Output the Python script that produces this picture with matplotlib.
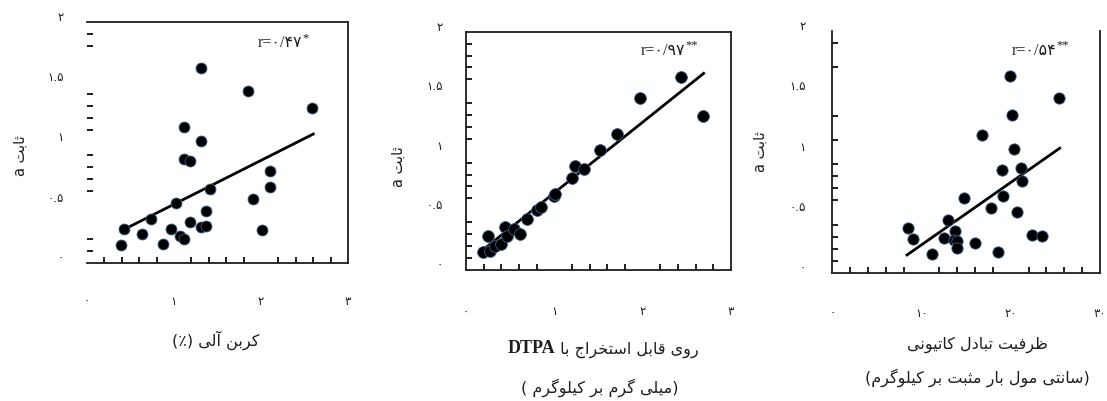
import matplotlib
matplotlib.use("Agg")
import matplotlib.pyplot as plt
import numpy as np
from matplotlib.transforms import ScaledTranslation

# ---- data ----
# panel 1: organic carbon (%) vs constant a
carbon_x = [0.39, 0.43, 0.63, 0.73, 0.87, 0.97, 1.02, 1.07, 1.11, 1.11, 1.12, 1.18, 1.18,
            1.31, 1.31, 1.31, 1.37, 1.37, 1.41, 1.85, 1.91, 2.01, 2.10, 2.10, 2.59]
carbon_y = [0.15, 0.28, 0.24, 0.365, 0.16, 0.28, 0.50, 0.22, 0.20, 1.13, 0.86, 0.85, 0.34,
            1.62, 1.01, 0.30, 0.31, 0.43, 0.61, 1.43, 0.53, 0.27, 0.76, 0.63, 1.29]
carbon_fit_x = [0.43, 2.60]
carbon_fit_y = [0.28, 1.07]

# panel 2: DTPA-extractable zinc (mg/kg) vs constant a
zinc_x = [0.19, 0.25, 0.27, 0.33, 0.40, 0.44, 0.46, 0.54, 0.61, 0.69, 0.80, 0.85, 0.99,
          1.01, 1.20, 1.23, 1.33, 1.52, 1.71, 1.97, 2.43, 2.68]
zinc_y = [0.146, 0.28, 0.155, 0.20, 0.22, 0.356, 0.286, 0.34, 0.30, 0.43, 0.50, 0.53, 0.62,
          0.64, 0.77, 0.87, 0.85, 1.01, 1.14, 1.44, 1.62, 1.29]
zinc_fit_x = [0.157, 2.69]
zinc_fit_y = [0.146, 1.65]

# panel 3: CEC (cmol+/kg) vs constant a
cec_x = [8.44, 9.0, 11.16, 12.52, 12.97, 13.74, 13.63, 14.0, 13.93, 14.74, 16.04, 16.78, 17.78,
         18.52, 19.0, 19.08, 19.93, 20.19, 20.41, 20.67, 21.16, 21.22, 22.33, 23.52, 25.37]
cec_y = [0.374, 0.28, 0.157, 0.287, 0.435, 0.344, 0.275, 0.267, 0.204, 0.617, 0.245, 1.14, 0.535,
         0.171, 0.854, 0.634, 1.625, 1.306, 1.02, 0.50, 0.865, 0.763, 0.314, 0.303, 1.446]
cec_fit_x = [8.37, 25.48]
cec_fit_y = [0.149, 1.03]

y_ticks = [0, 0.5, 1, 1.5, 2]
y_ticklabels = ["۰", "۰.۵", "۱", "۱.۵", "۲"]
x_ticks_small = [0, 1, 2, 3]
x_ticklabels_small = ["۰", "۱", "۲", "۳"]
x_ticks_cec = [0, 10, 20, 30]
x_ticklabels_cec = ["۰", "۱۰", "۲۰", "۳۰"]

r_labels = ["r=۰/۴۷", "r=۰/۹۷", "r=۰/۵۴"]
r_stars = ["*", "**", "**"]

ylabel_text = "ثابت a"
xlabel_carbon = "کربن آلی (٪)"
xlabel_zinc = "روی قابل استخراج با"
xlabel_zinc_latin = "DTPA"
xlabel_zinc_unit = "(میلی گرم بر کیلوگرم )"
xlabel_cec = "ظرفیت تبادل کاتیونی"
xlabel_cec_unit = "(سانتی مول بار مثبت بر کیلوگرم)"

# ---- tiny arabic/persian shaper (matplotlib has no text shaping) ----
FORMS = {
    "ا": ("\uFE8D", "\uFE8E"), "آ": ("\uFE81", "\uFE82"),
    "ب": ("\uFE8F", "\uFE90", "\uFE91", "\uFE92"), "ت": ("\uFE95", "\uFE96", "\uFE97", "\uFE98"),
    "ث": ("\uFE99", "\uFE9A", "\uFE9B", "\uFE9C"), "ج": ("\uFE9D", "\uFE9E", "\uFE9F", "\uFEA0"),
    "خ": ("\uFEA5", "\uFEA6", "\uFEA7", "\uFEA8"), "د": ("\uFEA9", "\uFEAA"),
    "ر": ("\uFEAD", "\uFEAE"), "س": ("\uFEB1", "\uFEB2", "\uFEB3", "\uFEB4"),
    "ظ": ("\uFEC5", "\uFEC6", "\uFEC7", "\uFEC8"), "ف": ("\uFED1", "\uFED2", "\uFED3", "\uFED4"),
    "ق": ("\uFED5", "\uFED6", "\uFED7", "\uFED8"), "ل": ("\uFEDD", "\uFEDE", "\uFEDF", "\uFEE0"),
    "م": ("\uFEE1", "\uFEE2", "\uFEE3", "\uFEE4"), "ن": ("\uFEE5", "\uFEE6", "\uFEE7", "\uFEE8"),
    "و": ("\uFEED", "\uFEEE"), "ی": ("\uFBFC", "\uFBFD", "\uFBFE", "\uFBFF"),
    "ک": ("\uFB8E", "\uFB8F", "\uFB90", "\uFB91"), "گ": ("\uFB92", "\uFB93", "\uFB94", "\uFB95"),
}
MIRROR = str.maketrans("()", ")(")


def shape_core(core):
    out = []
    for i, c in enumerate(core):
        forms = FORMS[c]
        prev = core[i - 1] if i > 0 else None
        nxt = core[i + 1] if i + 1 < len(core) else None
        jp = prev is not None and len(FORMS[prev]) == 4
        jn = nxt is not None and len(forms) == 4
        out.append(forms[3] if jp and jn else forms[1] if jp else forms[2] if jn else forms[0])
    return "".join(reversed(out))


def rtl(text):
    # visual (left-to-right) order of a right-to-left line
    tokens = []
    for w in reversed(text.split(" ")):
        idx = [i for i, c in enumerate(w) if c in FORMS]
        if idx:
            a, b = idx[0], idx[-1] + 1
            pre, core, post = w[:a], w[a:b], w[b:]
            tokens.append(post[::-1].translate(MIRROR) + shape_core(core) + pre[::-1].translate(MIRROR))
        elif any(c.isascii() and c.isalnum() for c in w):
            tokens.append(w)
        else:
            tokens.append(w[::-1].translate(MIRROR))
    return " ".join(tokens)


FAMILY = ["DejaVu Sans"]
SERIF = ["Liberation Serif", "DejaVu Sans"]
INK = "#1e1e1e"

fig = plt.figure(figsize=(11.07, 4.02), dpi=100)
lift = ScaledTranslation(0, 0.07, fig.dpi_scale_trans)

panels = [
    dict(rect=[0.0786, 0.3433, 0.2358, 0.5995], x=carbon_x, y=carbon_y, fx=carbon_fit_x, fy=carbon_fit_y,
         xlim=(0, 3.0), xt=x_ticks_small, xl=x_ticklabels_small, xminor=np.arange(0.2, 2.9, 0.2),
         yminor=[0.1, 0.2, 0.5, 0.6, 0.7, 0.8, 0.9, 1.0, 1.1, 1.2, 1.3, 1.4, 1.8, 1.9],
         hide="left", xpad=22, ypad=17, r=(0.655, 0.915), ylab=(0.018, 0.614), ms=62),
    dict(rect=[0.4210, 0.3266, 0.2394, 0.5920], x=zinc_x, y=zinc_y, fx=zinc_fit_x, fy=zinc_fit_y,
         xlim=(0, 3.0), xt=x_ticks_small, xl=x_ticklabels_small, xminor=np.arange(0.2, 2.9, 0.2),
         yminor=np.arange(0.1, 2.0, 0.1), hide=None, xpad=25, ypad=17, r=(0.66, 0.925),
         ylab=(0.3595, 0.585), ms=72),
    dict(rect=[0.7519, 0.3184, 0.2418, 0.6027], x=cec_x, y=cec_y, fx=cec_fit_x, fy=cec_fit_y,
         xlim=(0, 29.7), xt=x_ticks_cec, xl=x_ticklabels_cec, xminor=np.arange(2, 29, 2),
         yminor=[0.1, 0.2, 0.3, 0.4, 0.5, 0.6, 0.7, 0.8, 0.9, 1.1, 1.3, 1.5, 1.7, 1.9],
         hide="top", xpad=24, ypad=19, r=(0.67, 0.922), ylab=(0.6866, 0.622), ms=66),
]

for i, p in enumerate(panels):
    ax = fig.add_axes(p["rect"])
    ax.scatter(p["x"], p["y"], s=p["ms"], color="black", edgecolors="#3b5e8c", linewidths=0.6, zorder=3)
    ax.plot(p["fx"], p["fy"], color="black", lw=2.0, zorder=2)
    ax.set_xlim(*p["xlim"])
    ax.set_ylim(0, 2)
    for side, sp in ax.spines.items():
        sp.set_linewidth(1.3)
        sp.set_color(INK)
    if p["hide"]:
        ax.spines[p["hide"]].set_visible(False)
    ax.set_xticks(p["xt"])
    ax.set_xticklabels(p["xl"], family=FAMILY, fontsize=8.5, color=INK)
    ax.set_yticks(y_ticks)
    ax.set_yticklabels(y_ticklabels, family=FAMILY, fontsize=8.5, color=INK)
    ax.set_xticks(p["xminor"], minor=True)
    ax.set_yticks(p["yminor"], minor=True)
    ax.tick_params(which="major", length=0)
    ax.tick_params(axis="x", which="major", pad=p["xpad"])
    ax.tick_params(axis="y", which="major", pad=p["ypad"])
    ax.tick_params(which="minor", direction="in", length=4.5, width=1.4, color=INK)
    for lab in ax.get_yticklabels():
        lab.set_transform(lab.get_transform() + lift)

    rt = ax.text(p["r"][0], p["r"][1], r_labels[i], transform=ax.transAxes, fontsize=11.5,
                 family=SERIF, color=INK, ha="left", va="center")
    ax.annotate(r_stars[i], xy=(1.0, 0.85), xycoords=rt, fontsize=9, family=SERIF,
                color=INK, ha="left", va="center")

    fig.text(p["ylab"][0], p["ylab"][1], rtl(ylabel_text), rotation=90, ha="center", va="center",
             fontsize=10.5, family=FAMILY, color=INK)

# x axis titles
fig.text(0.1951, 0.154, rtl(xlabel_carbon), ha="center", va="center", fontsize=11.5,
         family=FAMILY, color=INK)

fig.text(0.5015, 0.133, xlabel_zinc_latin, ha="right", va="center", fontsize=13, family=SERIF,
         weight="bold", color=INK)
fig.text(0.5015, 0.129, " " + rtl(xlabel_zinc), ha="left", va="center", fontsize=11.5,
         family=FAMILY, color=INK)
fig.text(0.542, 0.035, rtl(xlabel_zinc_unit), ha="center", va="center", fontsize=11.5,
         family=FAMILY, color=INK)

fig.text(0.8826, 0.142, rtl(xlabel_cec), ha="center", va="center", fontsize=11.5,
         family=FAMILY, color=INK)
fig.text(0.8826, 0.060, rtl(xlabel_cec_unit), ha="center", va="center", fontsize=11.5,
         family=FAMILY, color=INK)

fig.savefig("out.png", dpi=100, facecolor="white")
